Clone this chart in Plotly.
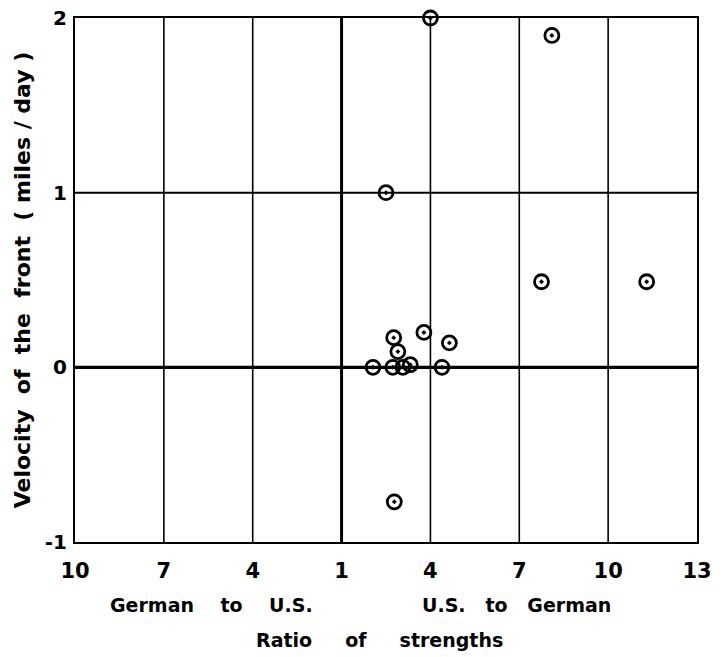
import plotly.graph_objects as go

# Data: ratio of strengths (U.S. to German) and velocity of the front (miles/day)
ratio_us_to_german = [4.0, 8.1, 2.5, 7.75, 11.3, 2.76, 2.9, 3.78, 4.64, 2.06, 2.73, 3.07, 3.32, 4.39, 2.78]
velocity = [2.0, 1.9, 1.0, 0.49, 0.49, 0.17, 0.09, 0.2, 0.14, 0.0, 0.0, 0.0, 0.015, 0.0, -0.77]

# Axis: symmetric ratio scale (German-to-U.S. on the left, U.S.-to-German on the right)
x_tick_pos = [-9, -6, -3, 0, 3, 6, 9, 12]
x_tick_text = ["10", "7", "4", "1", "4", "7", "10", "13"]
y_tick_vals = [-1, 0, 1, 2]
y_tick_text = ["-1", "0", "1", "2"]

# position on the linear scale: ratio 1 sits at 0, U.S.-to-German ratios go right
x_pos = [r - 1 for r in ratio_us_to_german]

FONT = "DejaVu Sans"
NB = "\u00a0"

def spaced(s, n=3):
    return s.replace(" ", NB * n)

fig = go.Figure()

shapes = []
for xv in x_tick_pos[1:-1]:
    shapes.append(dict(type="line", xref="x", yref="paper", x0=xv, x1=xv, y0=0, y1=1,
                       line=dict(color="black", width=3 if xv == 0 else 1.6), layer="below"))
shapes.append(dict(type="line", xref="paper", yref="y", x0=0, x1=1, y0=1, y1=1,
                   line=dict(color="black", width=2), layer="below"))
shapes.append(dict(type="line", xref="paper", yref="y", x0=0, x1=1, y0=0, y1=0,
                   line=dict(color="black", width=3.2), layer="below"))

fig.add_trace(go.Scatter(
    x=x_pos, y=velocity, mode="markers", cliponaxis=False,
    marker=dict(symbol="circle-open-dot", size=14, color="black",
                line=dict(color="black", width=2.8)),
    showlegend=False,
))

lab_font = dict(family=FONT, size=19, color="black", weight="bold")
ytitle = ("Velocity" + NB * 2 + "of" + NB * 2 + "the" + NB * 2 + "front" + NB * 2
          + "(" + NB + "miles" + NB + "/" + NB + "day" + NB + ")")

fig.update_layout(
    width=724, height=657,
    margin=dict(l=75, r=27, t=18, b=115, autoexpand=False),
    plot_bgcolor="white", paper_bgcolor="white",
    shapes=shapes,
    font=dict(family=FONT, color="black"),
    xaxis=dict(range=[-9, 12], tickvals=x_tick_pos, ticktext=x_tick_text,
               showgrid=False, zeroline=False, showline=True, mirror=True,
               linecolor="black", linewidth=2, ticks="", automargin=False,
               ticklabelstandoff=9, ticklabeloverflow="allow",
               tickfont=dict(family=FONT, size=21, color="black", weight="bold")),
    yaxis=dict(range=[-1, 2], tickvals=y_tick_vals, ticktext=y_tick_text,
               showgrid=False, zeroline=False, showline=True, mirror=True,
               linecolor="black", linewidth=2, ticks="", automargin=False,
               ticklabelstandoff=2, ticklabeloverflow="allow",
               tickfont=dict(family=FONT, size=20, color="black", weight="bold"),
               title=dict(text=ytitle, standoff=8,
                          font=dict(family=FONT, size=22, color="black", weight="bold"))),
    annotations=[
        dict(text=spaced("German to U.S.", 4), xref="x", yref="paper", x=-4.4, y=-0.120,
             yanchor="middle", showarrow=False, font=lab_font),
        dict(text=spaced("U.S. to German", 3), xref="x", yref="paper", x=5.9, y=-0.120,
             yanchor="middle", showarrow=False, font=lab_font),
        dict(text=spaced("Ratio of strengths", 5), xref="paper", yref="paper", x=0.49, y=-0.187,
             yanchor="middle", showarrow=False, font=lab_font),
    ],
)

fig.write_html("out.html", config={"displayModeBar": False},
               post_script="document.body.style.margin='0';")
